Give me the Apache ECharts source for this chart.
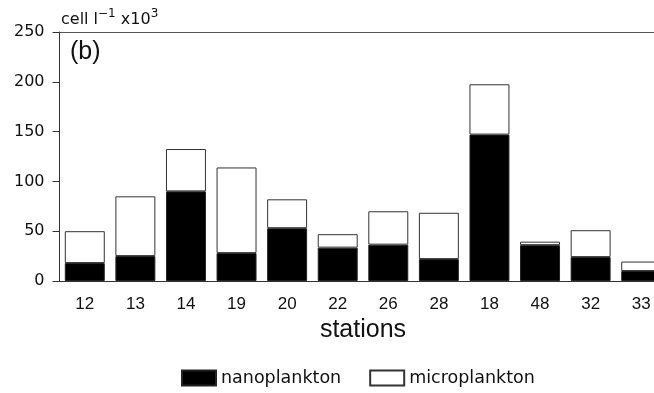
<!DOCTYPE html>
<html><head><meta charset="utf-8">
<script src="https://cdn.jsdelivr.net/npm/echarts@6/dist/echarts.min.js"></script>
<style>html,body{margin:0;padding:0;background:#fff}#c{width:654px;height:393px}</style>
</head><body><div id="c"></div>
<script>
const stations = ['12','13','14','19','20','22','26','28','18','48','32','33'];
const nanoplankton = [18,25,90,28,53,33.5,36.5,22,147,36,24,10];
const microplankton = [32,60,42.5,86,29,13.5,33.5,46.5,50.5,3.5,27,9.5];
const yTicks = [0,50,100,150,200,250];

const FONT = 'Liberation Sans';
const WIDE = 'DejaVu Sans';
const chart = echarts.init(document.getElementById('c'), null, {renderer:'canvas'});
chart.setOption({
  animation:false,
  textStyle:{fontFamily:FONT,color:'#111'},
  grid:{left:59.5,width:607,top:32,height:249,containLabel:false,outerBoundsMode:'none'},
  title:[
    {text:'{a|cell l}{s|−1}{a| x10}{s|3}',left:56,top:3,
     textStyle:{fontWeight:'normal',rich:{a:{fontFamily:WIDE,fontSize:16,fontWeight:'normal',color:'#111',verticalAlign:'bottom',lineHeight:20},
                      s:{fontFamily:WIDE,fontSize:12,fontWeight:'normal',color:'#111',verticalAlign:'top',lineHeight:20,padding:[0,0,6,0]}}}},
    {text:'(b)',left:65,top:35,textStyle:{fontFamily:FONT,fontSize:25,fontWeight:'normal',color:'#111'}}
  ],
  legend:{top:369,left:181,padding:0,itemWidth:34,itemHeight:15,itemGap:28,
    textStyle:{fontFamily:WIDE,fontSize:17.5,color:'#111',padding:[0,0,0,0]},
    data:[{name:'nanoplankton',icon:'rect'},{name:'microplankton',icon:'rect'}]},
  xAxis:[{type:'category',data:stations,
    axisLine:{lineStyle:{color:'#333',width:1}},
    axisTick:{alignWithLabel:true,length:6,lineStyle:{color:'#333'}},
    axisLabel:{fontFamily:FONT,fontSize:17,color:'#111',margin:15},
    name:'stations',nameLocation:'middle',nameGap:36,
    nameTextStyle:{fontFamily:FONT,fontSize:25,color:'#111'}},
    {type:'category',data:stations,position:'top',axisLine:{show:true,lineStyle:{color:'#555'}},
     axisTick:{show:false},axisLabel:{show:false}}],
  yAxis:{type:'value',min:0,max:250,interval:50,
    axisLine:{show:true,lineStyle:{color:'#333'}},
    axisTick:{show:true,length:7,lineStyle:{color:'#333'}},
    splitLine:{show:false},
    axisLabel:{fontFamily:WIDE,fontSize:16,color:'#111',margin:15,
      formatter:v=>yTicks.includes(v)?String(v):''}},
  series:[
    {name:'nanoplankton',type:'bar',stack:'t',data:nanoplankton,barCategoryGap:'21%',
     itemStyle:{color:'#000',borderColor:'#222',borderWidth:1}},
    {name:'microplankton',type:'bar',stack:'t',data:microplankton,barCategoryGap:'21%',
     itemStyle:{color:'#fff',borderColor:'#333',borderWidth:1}}
  ]
});
</script></body></html>
